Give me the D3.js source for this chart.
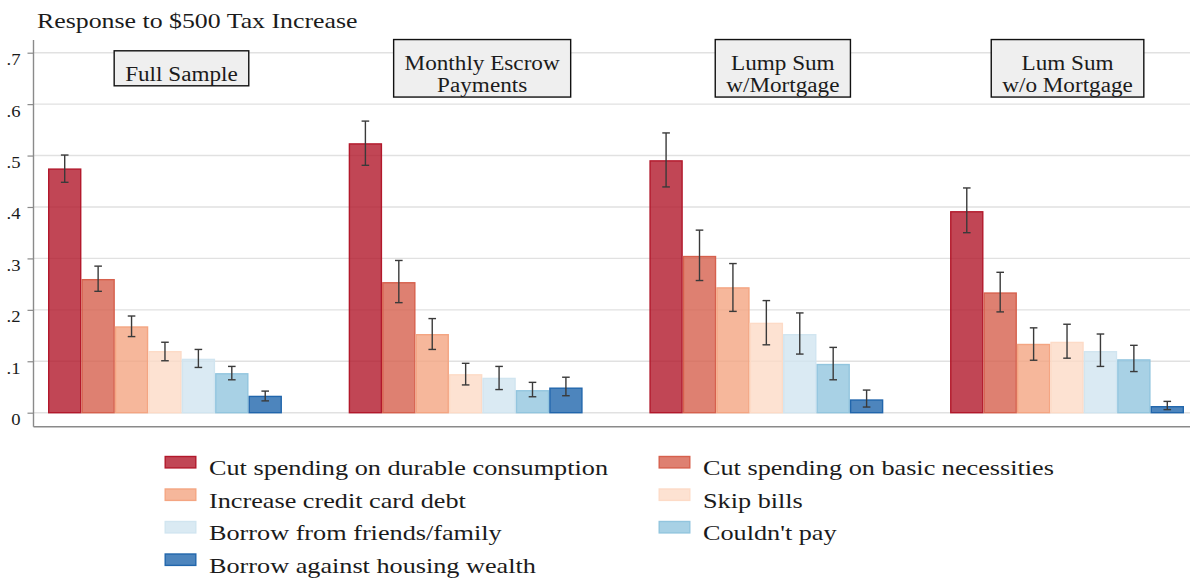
<!DOCTYPE html>
<html><head><meta charset="utf-8">
<script src="https://cdn.jsdelivr.net/npm/d3@7"></script>
<style>
body{margin:0;background:#fff}
svg{display:block}
text{font-family:"Liberation Serif","DejaVu Serif","Noto Serif",serif;fill:#1b1b1b}
</style>
</head><body>
<svg id="chart" width="1191" height="581"></svg>
<script>
// ---------------- data ----------------
const title = "Response to $500 Tax Increase";
const panels = ["Full Sample", "Monthly Escrow Payments", "Lump Sum w/Mortgage", "Lum Sum w/o Mortgage"];
const panelLabelLines = [["Full Sample"], ["Monthly Escrow", "Payments"], ["Lump Sum", "w/Mortgage"], ["Lum Sum", "w/o Mortgage"]];
const responses = [
  "Cut spending on durable consumption",
  "Cut spending on basic necessities",
  "Increase credit card debt",
  "Skip bills",
  "Borrow from friends/family",
  "Couldn't pay",
  "Borrow against housing wealth"
];
// shares by panel (one value per response)
const fullSample   = [0.475, 0.260, 0.168, 0.120, 0.105, 0.077, 0.033];
const fullLow      = [0.448, 0.236, 0.148, 0.101, 0.088, 0.064, 0.023];
const fullHigh     = [0.501, 0.285, 0.188, 0.137, 0.123, 0.090, 0.042];
const escrow       = [0.524, 0.254, 0.153, 0.075, 0.068, 0.044, 0.049];
const escrowLow    = [0.481, 0.214, 0.123, 0.054, 0.045, 0.031, 0.033];
const escrowHigh   = [0.567, 0.296, 0.183, 0.096, 0.090, 0.059, 0.069];
const lumpMort     = [0.491, 0.305, 0.244, 0.175, 0.153, 0.095, 0.026];
const lumpMortLow  = [0.439, 0.257, 0.197, 0.132, 0.114, 0.064, 0.011];
const lumpMortHigh = [0.544, 0.355, 0.290, 0.218, 0.194, 0.127, 0.044];
const lumpNoMort     = [0.392, 0.234, 0.134, 0.138, 0.120, 0.104, 0.013];
const lumpNoMortLow  = [0.350, 0.196, 0.102, 0.106, 0.090, 0.080, 0.006];
const lumpNoMortHigh = [0.437, 0.273, 0.165, 0.172, 0.153, 0.131, 0.022];
const yTicks = [0, 0.1, 0.2, 0.3, 0.4, 0.5, 0.6, 0.7];
const yTickLabels = ["0", ".1", ".2", ".3", ".4", ".5", ".6", ".7"];

const panelValues = [fullSample, escrow, lumpMort, lumpNoMort];
const panelLow = [fullLow, escrowLow, lumpMortLow, lumpNoMortLow];
const panelHigh = [fullHigh, escrowHigh, lumpMortHigh, lumpNoMortHigh];

// ---------------- style ----------------
const colors = ["#b2182b", "#d6604d", "#f4a582", "#fddbc7", "#d1e5f0", "#92c5de", "#2166ac"];

const svg = d3.select("#chart");

const plot = {left: 33.5, right: 1190, top: 40, bottom: 426.7};
const y = d3.scaleLinear().domain([0, 0.7]).range([412.7, 52.7]);
const xPanel = d3.scaleBand().domain(panels).range([48, 1184]).paddingInner(0.222).paddingOuter(0);
const xBar = d3.scaleBand().domain(responses).range([0, xPanel.bandwidth()]).padding(0);
const color = d3.scaleOrdinal().domain(responses).range(colors);

// widen glyphs so the fallback serif matches the wider reference face
function stretch(sel, k) {
  sel.each(function() {
    const w = this.getComputedTextLength();
    d3.select(this).attr("textLength", w * k).attr("lengthAdjust", "spacingAndGlyphs");
  });
}
function calib(sel, target) {
  const w = sel.node().getComputedTextLength();
  return target / w;
}

// gridlines
svg.append("g").selectAll("line").data(yTicks).join("line")
  .attr("x1", plot.left).attr("x2", plot.right)
  .attr("y1", d => y(d)).attr("y2", d => y(d))
  .attr("stroke", "#e1e1e1").attr("stroke-width", 1.4);

// y axis
const yAxis = d3.axisLeft(y).tickValues(yTicks).tickFormat((d, i) => yTickLabels[i]).tickSize(6).tickPadding(0);
const gy = svg.append("g").attr("transform", `translate(${plot.left},0)`).call(yAxis);
gy.select(".domain").remove();
gy.selectAll(".tick line").attr("stroke", "#8a8a8a").attr("stroke-width", 1.2);
gy.selectAll(".tick text").attr("x", -13).attr("dy", "0.72em")
  .attr("font-family", null).attr("font-size", 16.5).attr("fill", "#1b1b1b");

// axis lines
svg.append("line").attr("x1", plot.left).attr("x2", plot.left).attr("y1", plot.top).attr("y2", plot.bottom)
  .attr("stroke", "#8a8a8a").attr("stroke-width", 1.4);
svg.append("line").attr("x1", plot.left).attr("x2", plot.right).attr("y1", plot.bottom).attr("y2", plot.bottom)
  .attr("stroke", "#8a8a8a").attr("stroke-width", 1.4);

// bars
const rows = [];
panels.forEach((p, pi) => responses.forEach((r, ri) => rows.push({
  panel: p, resp: r, v: panelValues[pi][ri], lo: panelLow[pi][ri], hi: panelHigh[pi][ri]
})));

const gBars = svg.append("g");
gBars.selectAll("rect").data(rows).join("rect")
  .attr("x", d => xPanel(d.panel) + xBar(d.resp) + 0.7)
  .attr("width", xBar.bandwidth() - 1.4)
  .attr("y", d => y(d.v) + 0.7)
  .attr("height", d => y(0) - y(d.v) - 0.7)
  .attr("fill", d => color(d.resp)).attr("fill-opacity", 0.8)
  .attr("stroke", d => color(d.resp)).attr("stroke-width", 1.4);

// error bars
const gErr = svg.append("g").attr("stroke", "#3a3a3a").attr("stroke-width", 1.4);
const cx = d => xPanel(d.panel) + xBar(d.resp) + xBar.bandwidth() / 2;
gErr.selectAll(".v").data(rows).join("line").attr("class", "v")
  .attr("x1", cx).attr("x2", cx).attr("y1", d => y(d.lo)).attr("y2", d => y(d.hi));
gErr.selectAll(".t").data(rows).join("line").attr("class", "t")
  .attr("x1", d => cx(d) - 3.8).attr("x2", d => cx(d) + 3.8).attr("y1", d => y(d.hi)).attr("y2", d => y(d.hi));
gErr.selectAll(".b").data(rows).join("line").attr("class", "b")
  .attr("x1", d => cx(d) - 3.8).attr("x2", d => cx(d) + 3.8).attr("y1", d => y(d.lo)).attr("y2", d => y(d.lo));

// panel labels
const labelOffsets = [16.5, 16.5, 16.5, 0.5];
const lineH = 22.5;
let kPanel = null;
panels.forEach((p, pi) => {
  const lines = panelLabelLines[pi];
  const g = svg.append("g");
  const h = 35 + (lines.length - 1) * lineH;
  const top = 68.3 - h / 2;
  const cxp = xPanel(p) + xPanel.bandwidth() / 2 + labelOffsets[pi];
  const rect = g.append("rect");
  const texts = g.selectAll("text").data(lines).join("text")
    .attr("x", cxp).attr("y", (d, i) => top + 30 + i * lineH)
    .attr("text-anchor", "middle").attr("font-size", 20.5).text(d => d);
  if (kPanel === null) kPanel = calib(texts, 112.6);
  texts.call(stretch, kPanel);
  let maxW = 0;
  texts.each(function() { maxW = Math.max(maxW, +this.getAttribute("textLength")); });
  const w = maxW + 22;
  rect.attr("x", cxp - w / 2).attr("y", top).attr("width", w).attr("height", h)
    .attr("fill", "#efefef").attr("stroke", "#111").attr("stroke-width", 1.4);
});

// tick labels with same widening
gy.selectAll(".tick text").call(stretch, kPanel);

// title
const tt = svg.append("text").attr("x", 37).attr("y", 28).attr("font-size", 21.5).text(title);
tt.call(stretch, calib(tt, 320.5));

// legend
const legendCols = [164.5, 658.5];
const legendTop = 455.8;
const legendRowH = 32.5;
const gLeg = svg.append("g");
let kLeg = null;
responses.forEach((r, i) => {
  const col = i % 2, row = Math.floor(i / 2);
  const lx = legendCols[col], ly = legendTop + row * legendRowH;
  gLeg.append("rect").attr("x", lx + 0.7).attr("y", ly + 0.7).attr("width", 30.6).attr("height", 11.4)
    .attr("fill", color(r)).attr("fill-opacity", 0.8).attr("stroke", color(r)).attr("stroke-width", 1.4);
  const t = gLeg.append("text").attr("x", lx + 44.5).attr("y", ly + 19.5).attr("font-size", 21.5).text(r);
  if (kLeg === null) kLeg = calib(t, 399);
  t.call(stretch, kLeg);
});
</script>
</body></html>
